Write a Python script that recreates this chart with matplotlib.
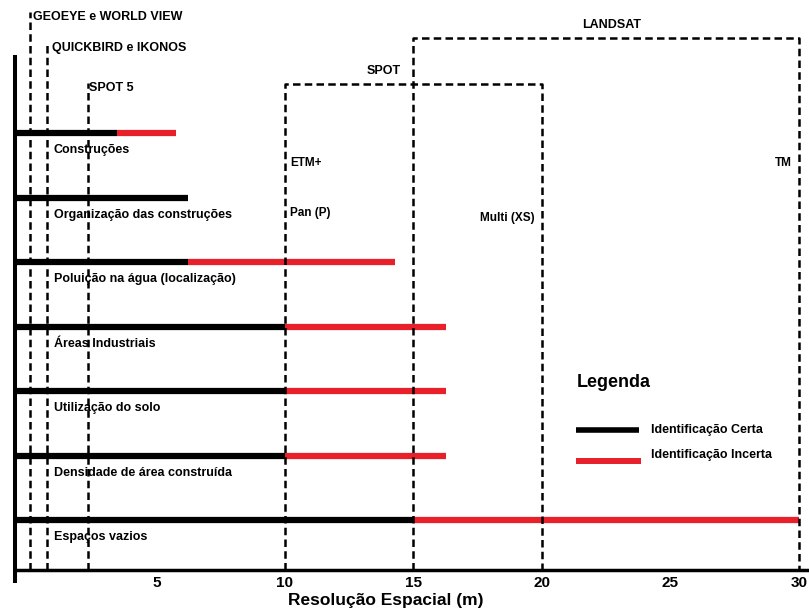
import matplotlib.pyplot as plt

# categories (top to bottom) and where each identification ends (m)
categories = ["Construções", "Organização das construções", "Poluição na água (localização)",
              "Áreas Industriais", "Utilização do solo", "Densidade de área construída",
              "Espaços vazios"]
certa = [3.46, 6.23, 6.23, 10.0, 10.0, 10.0, 15.0]
incerta = [5.76, 6.23, 14.28, 16.26, 16.26, 16.26, 30.0]

# single sensors (vertical dashed lines)
sensors = ["GEOEYE e WORLD VIEW", "QUICKBIRD e IKONOS", "SPOT 5"]
sensor_res = [0.06, 0.72, 2.32]

# sensor families (dashed boxes)
spot_range = [10, 20]
landsat_range = [15, 30]
xticks = [5, 10, 15, 20, 25, 30]

RED = "#e8202a"
FONT = ["Liberation Sans Narrow", "Liberation Sans", "DejaVu Sans"]
plt.rcParams["font.family"] = FONT


# pixel -> data helpers (for placing annotations only)
def xd(px):
    return (px - 28) / 25.7


def yd(py):
    return (py - 133) / 64.5


fig = plt.figure(figsize=(8.09, 6.15), dpi=100)
ax = fig.add_axes([15 / 809, (615 - 570) / 615, (808 - 15) / 809, (570 - 57) / 615])
ax.set_xlim(xd(15), xd(808))
ax.set_ylim(yd(570), yd(57))

for s in ["top", "right"]:
    ax.spines[s].set_visible(False)
ax.spines["left"].set_linewidth(2.9)
ax.spines["bottom"].set_linewidth(2.5)
ax.set_yticks([])
ax.set_xticks(xticks)
ax.set_xticklabels([str(t) for t in xticks], fontsize=11, fontweight="bold")
ax.tick_params(axis="x", length=0, pad=4)
ax.set_xlabel("Resolução Espacial (m)", fontsize=12.5, fontweight="bold")
ax.xaxis.set_label_coords((386 - 15) / 793, -0.045, transform=ax.transAxes)
ax.xaxis.label.set_va("top")

# left axis continues a little below the bottom axis
ax.plot([xd(15), xd(15)], [yd(570), yd(583)], color="black", lw=2.9, clip_on=False,
        solid_capstyle="butt")

dash = dict(color="black", lw=1.8, ls=(0, (3.0, 1.7)), clip_on=False)
ybot = yd(570)

# bars
x0 = xd(15)
for i, (c, b, r) in enumerate(zip(categories, certa, incerta)):
    if r > b:
        ax.plot([b, r], [i, i], color=RED, lw=4.5, solid_capstyle="butt", zorder=3)
    ax.plot([x0, b], [i, i], color="black", lw=4.5, solid_capstyle="butt", zorder=4)
    ax.text(xd(54), i + 0.27, c, fontsize=9, fontweight="bold", va="center", ha="left")

# single sensor lines
sensor_tops = [12, 44, 83]
sensor_text_x = [33, 52, 89]
sensor_text_y = [17, 48, 88]
for name, res, top, tx, ty in zip(sensors, sensor_res, sensor_tops, sensor_text_x, sensor_text_y):
    ax.plot([res, res], [ybot, yd(top)], zorder=5, **dash)
    ax.text(xd(tx), yd(ty), name, fontsize=9, fontweight="bold", va="center", ha="left")

# SPOT box
ytop = yd(84)
ax.plot([spot_range[0], spot_range[0], spot_range[1], spot_range[1]],
        [ybot, ytop, ytop, ybot], zorder=5, **dash)
ax.text(xd(384), yd(71), "SPOT", fontsize=9, fontweight="bold", ha="center", va="center")
ax.text(spot_range[0] + 0.2, yd(163), "ETM+", fontsize=8.5, fontweight="bold", va="center")
ax.text(spot_range[0] + 0.2, yd(213), "Pan (P)", fontsize=8.5, fontweight="bold", va="center")
ax.text(spot_range[1] - 0.3, yd(218), "Multi (XS)", fontsize=8.5, fontweight="bold",
        va="center", ha="right")

# LANDSAT box
ytop = yd(38)
ax.plot([landsat_range[0], landsat_range[0], landsat_range[1], landsat_range[1]],
        [ybot, ytop, ytop, ybot], zorder=5, **dash)
ax.text(xd(612), yd(25), "LANDSAT", fontsize=9, fontweight="bold", ha="center", va="center")
ax.text(landsat_range[1] - 0.3, yd(163), "TM", fontsize=8.5, fontweight="bold",
        va="center", ha="right")

# legend
ax.text(xd(577), yd(382), "Legenda", fontsize=13, fontweight="bold", va="center")
ax.plot([xd(576), xd(639)], [yd(430), yd(430)], color="black", lw=4, solid_capstyle="butt")
ax.plot([xd(576), xd(641)], [yd(461), yd(461)], color=RED, lw=4.3, solid_capstyle="butt")
ax.text(xd(651), yd(430), "Identificação Certa", fontsize=9, fontweight="bold", va="center")
ax.text(xd(651), yd(455), "Identificação Incerta", fontsize=9, fontweight="bold", va="center")

fig.savefig("out.png", dpi=100)
